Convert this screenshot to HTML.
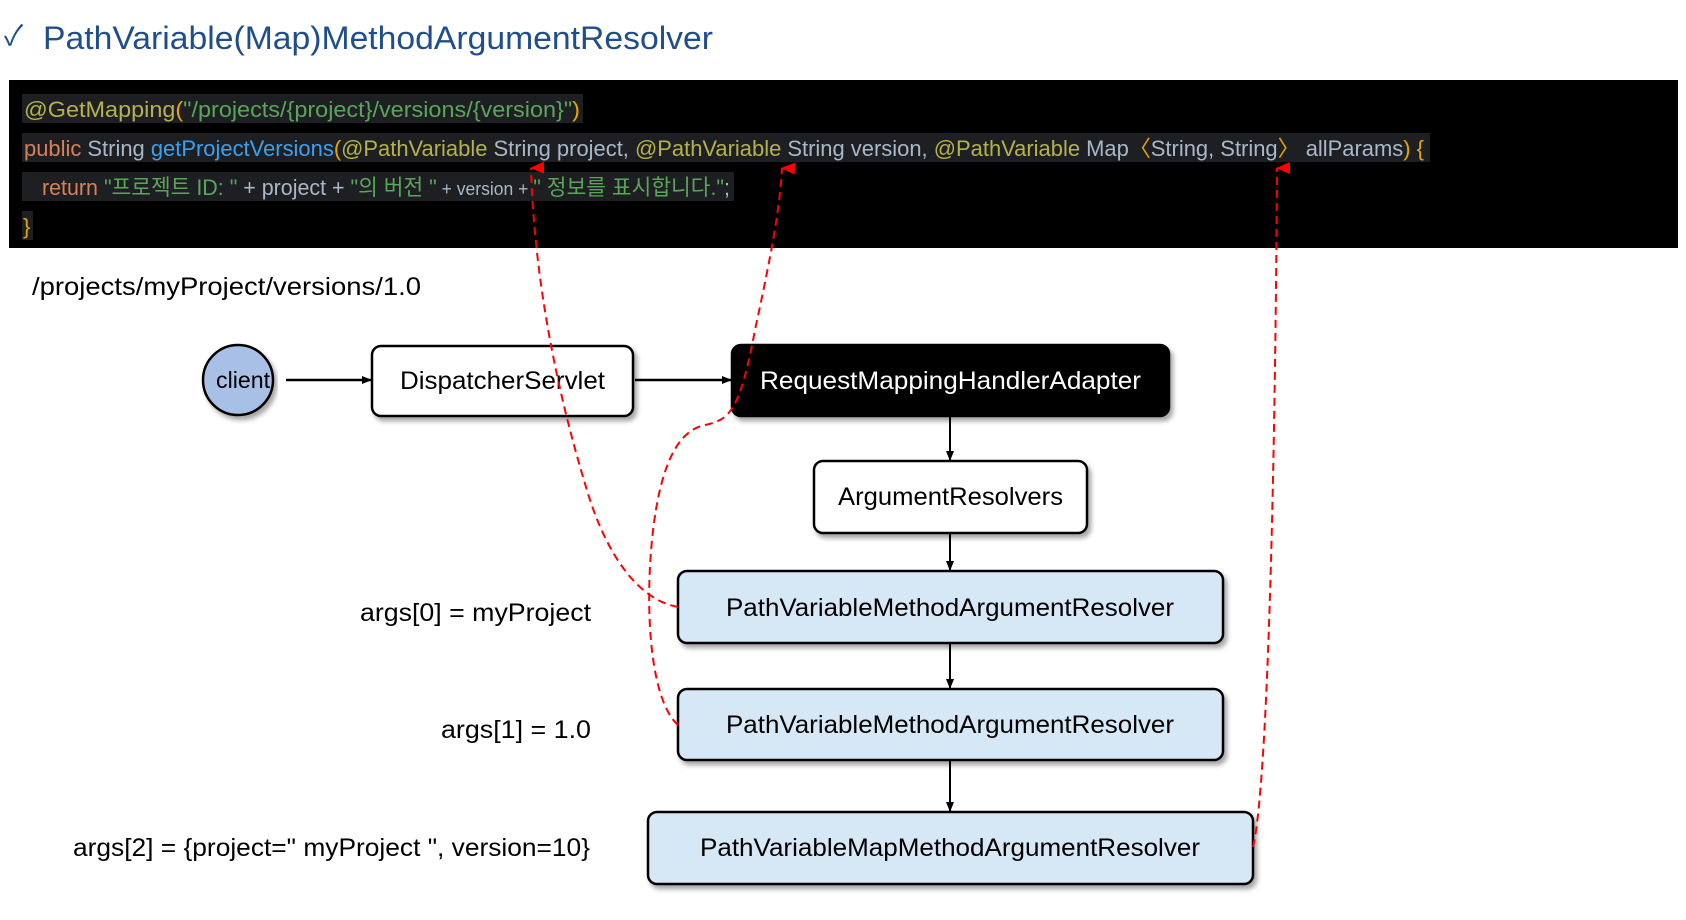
<!DOCTYPE html>
<html><head><meta charset="utf-8"><style>
html,body{margin:0;padding:0;background:#fff;}
svg{display:block;}
text{font-family:"Liberation Sans","Noto Sans CJK KR",sans-serif;}
</style></head><body>
<svg width="1686" height="920" viewBox="0 0 1686 920" xmlns="http://www.w3.org/2000/svg">
<defs>
<marker id="ab" markerWidth="10" markerHeight="10" refX="9" refY="5" orient="auto" markerUnits="userSpaceOnUse"><path d="M0,1 L10,5 L0,9 Z" fill="#000"/></marker>
<marker id="ar" markerWidth="12" markerHeight="14" refX="6" refY="1" orient="auto-start-reverse" markerUnits="userSpaceOnUse"><path d="M0,14 L6,0 L12,14 Z" fill="#f00"/></marker>
<filter id="sh" x="-5%" y="-10%" width="112%" height="130%"><feDropShadow dx="3" dy="4" stdDeviation="2.5" flood-color="#000" flood-opacity="0.35"/></filter>
</defs>
<text x="4" y="45" font-size="28" fill="#1f4e8c">✓</text>
<text x="43" y="49" font-size="32" fill="#1f4e8c" textLength="670" lengthAdjust="spacingAndGlyphs">PathVariable(Map)MethodArgumentResolver</text>
<rect x="9" y="80" width="1669" height="168" fill="#000"/>
<rect x="22" y="94" width="561" height="29" fill="#1e1f22"/>
<rect x="22" y="133" width="1408" height="29" fill="#1e1f22"/>
<rect x="22" y="172" width="712" height="29" fill="#1e1f22"/>
<rect x="22" y="211" width="11" height="29" fill="#1e1f22"/>
<g font-size="22">
<text x="24" y="117" textLength="556" lengthAdjust="spacingAndGlyphs"><tspan fill="#b5b24a">@GetMapping</tspan><tspan fill="#e6a800">(</tspan><tspan fill="#5aa55a">"/projects/{project}/versions/{version}"</tspan><tspan fill="#e6a800">)</tspan></text>
<text x="24" y="156" textLength="1400" lengthAdjust="spacingAndGlyphs"><tspan fill="#d9805a">public</tspan><tspan fill="#a9b7c6"> String </tspan><tspan fill="#3ba0f0">getProjectVersions</tspan><tspan fill="#e6a800">(</tspan><tspan fill="#b5b24a">@PathVariable</tspan><tspan fill="#a9b7c6"> String project, </tspan><tspan fill="#b5b24a">@PathVariable</tspan><tspan fill="#a9b7c6">  String version, </tspan><tspan fill="#b5b24a">@PathVariable</tspan><tspan fill="#a9b7c6">  Map</tspan><tspan fill="#e6a800">〈</tspan><tspan fill="#a9b7c6">String, String</tspan><tspan fill="#e6a800">〉</tspan><tspan fill="#a9b7c6"> allParams</tspan><tspan fill="#e6a800">) {</tspan></text>
<text x="42" y="195" textLength="688" lengthAdjust="spacingAndGlyphs"><tspan fill="#d9805a">return </tspan><tspan fill="#5aa55a">"프로젝트 ID: "</tspan><tspan fill="#a9b7c6"> + project + </tspan><tspan fill="#5aa55a">"의 버전 "</tspan><tspan fill="#a9b7c6" font-size="18"> + version + </tspan><tspan fill="#5aa55a">" 정보를 표시합니다."</tspan><tspan fill="#a9b7c6">;</tspan></text>
<text x="23" y="234" fill="#e6a800">}</text>
</g>
<text x="32" y="295" font-size="25" fill="#000" textLength="389" lengthAdjust="spacingAndGlyphs">/projects/myProject/versions/1.0</text>
<circle cx="238" cy="380" r="35" fill="#a9c0e6" stroke="#000" stroke-width="2.5" filter="url(#sh)"/>
<text x="216" y="388" font-size="23" textLength="54" lengthAdjust="spacingAndGlyphs">client</text>
<line x1="286" y1="380" x2="371" y2="380" stroke="#000" stroke-width="2.5" marker-end="url(#ab)"/>
<rect x="372" y="346" width="261" height="70" rx="9" fill="#fff" stroke="#000" stroke-width="2.5" filter="url(#sh)"/>
<text x="400" y="389" font-size="25" textLength="205" lengthAdjust="spacingAndGlyphs">DispatcherServlet</text>
<line x1="635" y1="380" x2="731" y2="380" stroke="#000" stroke-width="2.5" marker-end="url(#ab)"/>
<rect x="732" y="345" width="437" height="71" rx="9" fill="#000" stroke="#000" stroke-width="2.5" filter="url(#sh)"/>
<text x="760" y="389" font-size="25" fill="#fff" textLength="381" lengthAdjust="spacingAndGlyphs">RequestMappingHandlerAdapter</text>
<line x1="950" y1="417" x2="950" y2="460" stroke="#000" stroke-width="2" marker-end="url(#ab)"/>
<rect x="814" y="461" width="273" height="72" rx="9" fill="#fff" stroke="#000" stroke-width="2.5" filter="url(#sh)"/>
<text x="838" y="505" font-size="25" textLength="225" lengthAdjust="spacingAndGlyphs">ArgumentResolvers</text>
<line x1="950" y1="534" x2="950" y2="570" stroke="#000" stroke-width="2" marker-end="url(#ab)"/>
<rect x="678" y="571" width="545" height="72" rx="9" fill="#d6e7f6" stroke="#000" stroke-width="2.5" filter="url(#sh)"/>
<text x="726" y="616" font-size="25" textLength="448" lengthAdjust="spacingAndGlyphs">PathVariableMethodArgumentResolver</text>
<line x1="950" y1="644" x2="950" y2="688" stroke="#000" stroke-width="2" marker-end="url(#ab)"/>
<rect x="678" y="689" width="545" height="71" rx="9" fill="#d6e7f6" stroke="#000" stroke-width="2.5" filter="url(#sh)"/>
<text x="726" y="733" font-size="25" textLength="448" lengthAdjust="spacingAndGlyphs">PathVariableMethodArgumentResolver</text>
<line x1="950" y1="761" x2="950" y2="811" stroke="#000" stroke-width="2" marker-end="url(#ab)"/>
<rect x="648" y="812" width="605" height="72" rx="9" fill="#d6e7f6" stroke="#000" stroke-width="2.5" filter="url(#sh)"/>
<text x="700" y="856" font-size="25" textLength="500" lengthAdjust="spacingAndGlyphs">PathVariableMapMethodArgumentResolver</text>
<text x="360" y="621" font-size="25" textLength="231" lengthAdjust="spacingAndGlyphs">args[0] = myProject</text>
<text x="441" y="738" font-size="25" textLength="150" lengthAdjust="spacingAndGlyphs">args[1] = 1.0</text>
<text x="73" y="856" font-size="25" textLength="517" lengthAdjust="spacingAndGlyphs">args[2] = {project=" myProject ", version=10}</text>
<g fill="none" stroke="#f00" stroke-width="2" stroke-dasharray="8,5">
<path d="M678,607 C640,600 610,560 590,500 C565,420 535,300 531,168" marker-end="url(#ar)"/>
<path d="M678,725 C650,700 645,610 652,540 C660,460 680,430 705,425 C730,420 740,410 755,330 C770,260 780,210 782,168" marker-end="url(#ar)"/>
<path d="M1253,847 C1267,790 1275,500 1277,168" marker-end="url(#ar)"/>
</g>
</svg>
</body></html>
